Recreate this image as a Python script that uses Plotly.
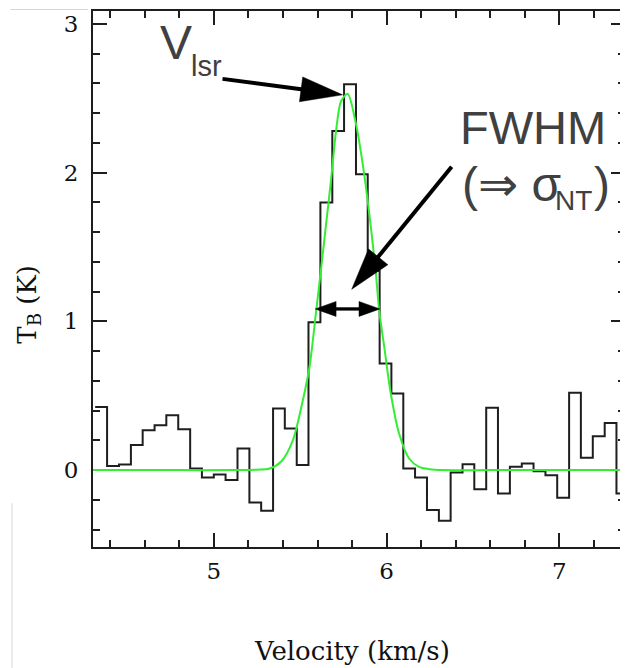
import numpy as np
import plotly.graph_objects as go

# ---------------- data ----------------
# channel centre velocities (km/s)
velocity = [4.347, 4.416, 4.485, 4.554, 4.622, 4.691, 4.759, 4.828, 4.897, 4.965,
            5.034, 5.102, 5.171, 5.240, 5.308, 5.377, 5.445, 5.514, 5.582, 5.651,
            5.720, 5.788, 5.857, 5.925, 5.994, 6.062, 6.131, 6.199, 6.268, 6.337,
            6.405, 6.474, 6.542, 6.611, 6.679, 6.748, 6.817, 6.885, 6.954, 7.022,
            7.091, 7.159, 7.228, 7.297, 7.365]
# brightness temperature per channel (K)
tb = [0.425, 0.027, 0.038, 0.168, 0.268, 0.302, 0.369, 0.275, 0.011, -0.049,
      -0.029, -0.067, 0.146, -0.217, -0.273, 0.414, 0.280, 0.034, 0.995, 1.800,
      2.280, 2.595, 1.990, 1.340, 0.716, 0.515, 0.011, -0.049, -0.268, -0.340,
      -0.016, 0.040, -0.128, 0.420, -0.157, 0.022, 0.045, -0.007, -0.034, -0.186,
      0.520, 0.083, 0.228, 0.317, -0.157]
# Gaussian fit curve
fit_v = [4.25, 4.80, 5.10, 5.25, 5.323, 5.39, 5.457, 5.515, 5.553, 5.592, 5.621,
         5.650, 5.678, 5.707, 5.736, 5.774, 5.822, 5.870, 5.909, 5.938, 5.957,
         5.986, 6.024, 6.072, 6.130, 6.187, 6.25, 6.32, 6.60, 7.00, 7.45]
fit_t = [0.0, 0.0, 0.0, 0.003, 0.011, 0.058, 0.20, 0.47, 0.69, 1.07, 1.36,
         1.66, 1.95, 2.28, 2.48, 2.53, 2.33, 1.99, 1.63, 1.32, 1.07,
         0.83, 0.515, 0.246, 0.078, 0.022, 0.006, 0.0, 0.0, 0.0, 0.0]
x_ticks = [5, 6, 7]
y_ticks = [0, 1, 2, 3]

# ---------------- layout constants ----------------
OFF = 8                     # page body margin in the viewer
W, H = 628 - OFF, 668 - OFF
ML, MR, MT, MB = 93 - OFF, 1, 10 - OFF, 121
X0, X1 = 4.30, 7.38
Y0, Y1 = -0.517, 3.087
PW, PH = W - ML - MR, H - MT - MB


def dx(px):
    return X0 + (px - OFF - ML) / PW * (X1 - X0)


def dy(py):
    return Y0 + (H - MB - (py - OFF)) / PH * (Y1 - Y0)


def paper_x(px):
    return (px - OFF - ML) / PW


def paper_y(py):
    return (H - MB - (py - OFF)) / PH


# channel edges for the step histogram
vel = np.array(velocity)
dv = float(np.median(np.diff(vel)))
edges = list(vel - dv / 2) + [vel[-1] + dv / 2]
tb_steps = list(tb) + [tb[-1]]

fig = go.Figure()
fig.add_trace(go.Scatter(x=edges, y=tb_steps, mode="lines",
                         line=dict(shape="hv", color="#1e1e1e", width=2),
                         hoverinfo="skip", showlegend=False))
fig.add_trace(go.Scatter(x=fit_v, y=fit_t, mode="lines",
                         line=dict(shape="spline", smoothing=0.8, color="#33ee33", width=2),
                         hoverinfo="skip", showlegend=False))

shapes = []


def arrow(tip, tail, hl, hw, lw, both=False):
    tip = np.array(tip, float)
    tail = np.array(tail, float)
    u = tip - tail
    u /= np.linalg.norm(u)
    n = np.array([-u[1], u[0]])

    def head(t, d):
        base = t - d * hl
        c1 = base + n * hw / 2
        c2 = base - n * hw / 2
        path = "M{},{} L{},{} L{},{} Z".format(dx(t[0]), dy(t[1]), dx(c1[0]), dy(c1[1]),
                                                dx(c2[0]), dy(c2[1]))
        shapes.append(dict(type="path", path=path, xref="x", yref="y",
                           fillcolor="black", line=dict(color="black", width=0.5),
                           layer="above"))
        return base + d * 2

    e = head(tip, u)
    s = tail
    if both:
        s = head(tail, -u)
    shapes.append(dict(type="line", xref="x", yref="y", x0=dx(s[0]), y0=dy(s[1]),
                       x1=dx(e[0]), y1=dy(e[1]), line=dict(color="black", width=lw),
                       layer="above"))


arrow((343.5, 94.0), (223.0, 78.0), 42, 25, 4)
arrow((352.7, 288.8), (453.0, 166.0), 42, 25, 4)
arrow((381.0, 308.5), (316.0, 308.5), 21, 15, 3.3, both=True)

# thin grey crop lines
shapes.append(dict(type="line", xref="paper", yref="paper", x0=paper_x(10), x1=paper_x(88),
                   y0=paper_y(8.5), y1=paper_y(8.5), line=dict(color="#d6d6d6", width=1)))
shapes.append(dict(type="line", xref="paper", yref="paper", x0=paper_x(11.7), x1=paper_x(11.7),
                   y0=paper_y(503), y1=paper_y(668), line=dict(color="#d6d6d6", width=1)))

SANS = "Liberation Sans, Arial, DejaVu Sans"
SERIF = "DejaVu Serif, serif"
TXT = "#404040"


def label(text, px, py, size, xanchor="left", family=SANS, color=TXT, angle=0):
    return dict(text=text, xref="paper", yref="paper", x=paper_x(px), y=paper_y(py),
                xanchor=xanchor, yanchor="middle", showarrow=False, borderpad=0,
                textangle=angle, font=dict(family=family, size=size, color=color))


annotations = [
    label("V", 159, 58 - 0.3465 * 48, 48),
    label("lsr", 190, 75 - 0.3465 * 29, 29),
    label("FWHM", 460, 143 - 0.3465 * 47, 47),
    label("(\u21d2 \u03c3", 462, 200 - 0.3465 * 48, 48),
    label("NT", 556, 210 - 0.3465 * 28, 28),
    label(")", 595, 200 - 0.3465 * 48, 48),
    label("Velocity (km/s)", 352.5, 660 - 0.346 * 26, 26, xanchor="center",
          family=SERIF, color="#111"),
    label("T<sub>B</sub> (K)", 28, 304, 26, xanchor="center", family=SERIF,
          color="#111", angle=-90),
]

axis_common = dict(showline=True, linecolor="#1e1e1e", linewidth=2, mirror="ticks",
                   ticks="inside", ticklen=14, tickwidth=1.5, tickcolor="#1e1e1e",
                   showgrid=False, zeroline=False, layer="below traces",
                   tickfont=dict(family=SERIF, size=23, color="#111"))

fig.update_layout(
    width=W, height=H,
    margin=dict(l=ML, r=MR, t=MT, b=MB),
    paper_bgcolor="white", plot_bgcolor="white",
    shapes=shapes, annotations=annotations,
    xaxis=dict(range=[X0, X1], tickvals=x_ticks, ticktext=[str(v) for v in x_ticks],
               ticklabelstandoff=2,
               minor=dict(dtick=0.2, tick0=0, ticks="inside", ticklen=7, tickwidth=1.5,
                          tickcolor="#1e1e1e", showgrid=False),
               **axis_common),
    yaxis=dict(range=[Y0, Y1], tickvals=y_ticks, ticktext=[str(v) for v in y_ticks],
               ticklabelstandoff=8,
               minor=dict(dtick=0.2, tick0=0, ticks="inside", ticklen=7, tickwidth=1.5,
                          tickcolor="#1e1e1e", showgrid=False),
               **axis_common),
)

fig.write_html("out.html")
